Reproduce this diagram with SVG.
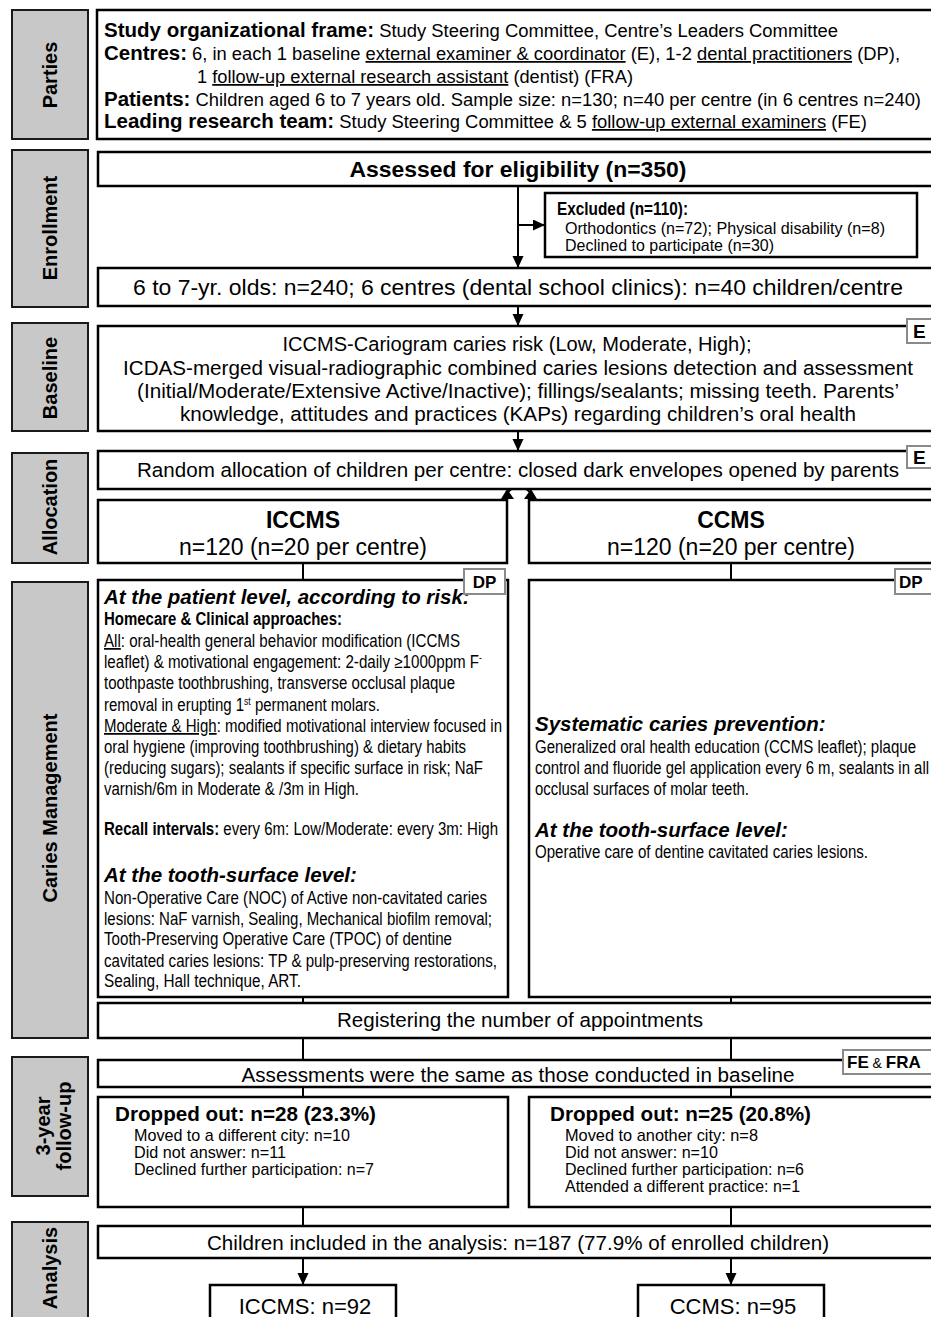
<svg xmlns="http://www.w3.org/2000/svg" width="931" height="1317" viewBox="0 0 931 1317">
<defs>
<style>
.lab{fill:#c8c8c8;stroke:#1a1a1a;stroke-width:2}
.box{fill:#fff;stroke:#000;stroke-width:2.5}
.badge{fill:#fff;stroke:#8a8a8a;stroke-width:2}
text{font-family:"Liberation Sans",Arial,sans-serif;fill:#000}
.vl{font-weight:bold;font-size:20px;text-anchor:middle}
.c{text-anchor:middle}
.b{font-weight:bold}
.bi{font-weight:bold;font-style:italic}
.u{text-decoration:underline}
.conn{stroke:#000;stroke-width:2;fill:none}
</style>
<marker id="ah" markerUnits="userSpaceOnUse" markerWidth="12" markerHeight="12" refX="12" refY="5.5" orient="auto">
<path d="M0,0 L12,5.5 L0,11 Z" fill="#000"/>
</marker>
</defs>
<rect width="931" height="1317" fill="#fff"/>

<g id="side-labels">
<rect class="lab" x="12" y="10" width="76" height="129"/>
<text class="vl" transform="translate(57,75) rotate(-90)">Parties</text>
<rect class="lab" x="12" y="150" width="76" height="157"/>
<text class="vl" transform="translate(57,228) rotate(-90)">Enrollment</text>
<rect class="lab" x="12" y="323" width="76" height="108"/>
<text class="vl" transform="translate(57,378) rotate(-90)">Baseline</text>
<rect class="lab" x="12" y="453" width="76" height="110"/>
<text class="vl" transform="translate(57,507) rotate(-90)">Allocation</text>
<rect class="lab" x="12" y="582" width="76" height="456"/>
<text class="vl" transform="translate(57,808) rotate(-90)">Caries Management</text>
<rect class="lab" x="12" y="1057" width="76" height="139"/>
<text class="vl" transform="translate(50,1126) rotate(-90)">3-year</text>
<text class="vl" transform="translate(71,1126) rotate(-90)">follow-up</text>
<rect class="lab" x="12" y="1222" width="76" height="100"/>
<text class="vl" transform="translate(57,1268) rotate(-90)">Analysis</text>
</g>

<g id="connectors">
<path class="conn" d="M518 186 V268" marker-end="url(#ah)"/>
<path class="conn" d="M518 225 H545" marker-end="url(#ah)"/>
<path class="conn" d="M518 306 V326" marker-end="url(#ah)"/>
<path class="conn" d="M518 431 V451" marker-end="url(#ah)"/>
<path class="conn" d="M508 492 Q518 481 530 492"/>
<path d="M501 499 L507 489 L514 499 Z" fill="#000"/>
<path d="M524 499 L531 489 L537 499 Z" fill="#000"/>
<path class="conn" d="M303 563 V580 M731 563 V580 M303 997 V1003 M731 997 V1003 M303 1038 V1060 M731 1038 V1060 M303 1087 V1097 M731 1087 V1097 M303 1207 V1226 M731 1207 V1226"/>
<path class="conn" d="M303 1258 V1285" marker-end="url(#ah)"/>
<path class="conn" d="M731 1258 V1285" marker-end="url(#ah)"/>
</g>

<g id="parties">
<rect class="box" x="97" y="10" width="845" height="129"/>
<text x="104" y="37" font-size="17.5" textLength="734" lengthAdjust="spacingAndGlyphs"><tspan class="b" font-size="19.5">Study organizational frame:</tspan> Study Steering Committee, Centre’s Leaders Committee</text>
<text x="104" y="60" font-size="17.5" textLength="796" lengthAdjust="spacingAndGlyphs"><tspan class="b" font-size="19.5">Centres:</tspan> 6, in each 1 baseline <tspan class="u">external examiner &amp; coordinator</tspan> (E), 1-2 <tspan class="u">dental practitioners</tspan> (DP),</text>
<text x="197" y="83" font-size="17.5" textLength="436" lengthAdjust="spacingAndGlyphs">1 <tspan class="u">follow-up external research assistant</tspan> (dentist) (FRA)</text>
<text x="104" y="106" font-size="17.5" textLength="817" lengthAdjust="spacingAndGlyphs"><tspan class="b" font-size="19.5">Patients:</tspan> Children aged 6 to 7 years old. Sample size: n=130; n=40 per centre (in 6 centres n=240)</text>
<text x="104" y="128" font-size="17.5" textLength="763" lengthAdjust="spacingAndGlyphs"><tspan class="b" font-size="19.5">Leading research team:</tspan> Study Steering Committee &amp; 5 <tspan class="u">follow-up external examiners</tspan> (FE)</text>
</g>

<g id="assessed">
<rect class="box" x="98" y="152" width="845" height="34"/>
<text class="b c" x="518" y="177" font-size="22" textLength="337" lengthAdjust="spacingAndGlyphs">Assessed for eligibility (n=350)</text>
</g>

<g id="excluded">
<rect class="box" x="545" y="193" width="372" height="64"/>
<text class="b" x="557" y="215" font-size="17.5" textLength="131" lengthAdjust="spacingAndGlyphs">Excluded (n=110):</text>
<text x="565" y="234" font-size="16.5" textLength="320" lengthAdjust="spacingAndGlyphs">Orthodontics (n=72); Physical disability (n=8)</text>
<text x="565" y="251" font-size="16.5" textLength="209" lengthAdjust="spacingAndGlyphs">Declined to participate (n=30)</text>
</g>

<g id="enrolled">
<rect class="box" x="98" y="268" width="845" height="38"/>
<text class="c" x="518" y="295" font-size="22" textLength="770" lengthAdjust="spacingAndGlyphs">6 to 7-yr. olds: n=240; 6 centres (dental school clinics): n=40 children/centre</text>
</g>

<g id="baseline">
<rect class="box" x="98" y="326" width="845" height="105"/>
<text class="c" x="517" y="351" font-size="20.5" textLength="469" lengthAdjust="spacingAndGlyphs">ICCMS-Cariogram caries risk (Low, Moderate, High);</text>
<text class="c" x="518" y="375" font-size="20.5" textLength="790" lengthAdjust="spacingAndGlyphs">ICDAS-merged visual-radiographic combined caries lesions detection and assessment</text>
<text class="c" x="518" y="398" font-size="20.5" textLength="762" lengthAdjust="spacingAndGlyphs">(Initial/Moderate/Extensive Active/Inactive); fillings/sealants; missing teeth. Parents’</text>
<text class="c" x="518" y="421" font-size="20.5" textLength="676" lengthAdjust="spacingAndGlyphs">knowledge, attitudes and practices (KAPs) regarding children’s oral health</text>
<rect class="badge" x="907" y="319" width="30" height="24"/>
<text class="b" x="913" y="338" font-size="19">E</text>
</g>

<g id="allocation">
<rect class="box" x="98" y="451" width="845" height="38"/>
<text class="c" x="518" y="477" font-size="20.5" textLength="762" lengthAdjust="spacingAndGlyphs">Random allocation of children per centre: closed dark envelopes opened by parents</text>
<rect class="badge" x="907" y="446" width="30" height="22"/>
<text class="b" x="913" y="464" font-size="19">E</text>
</g>

<g id="iccms">
<rect class="box" x="98" y="500" width="409" height="63"/>
<text class="b c" x="303" y="528" font-size="23">ICCMS</text>
<text class="c" x="303" y="555" font-size="23">n=120 (n=20 per centre)</text>
</g>

<g id="ccms">
<rect class="box" x="529" y="500" width="410" height="63"/>
<text class="b c" x="731" y="528" font-size="23">CCMS</text>
<text class="c" x="731" y="555" font-size="23">n=120 (n=20 per centre)</text>
</g>

<g id="iccms-management">
<rect class="box" x="98" y="580" width="410" height="417"/>
<text class="bi" x="104" y="604" font-size="20.5">At the patient level, according to risk:</text>
<text class="b" x="104" y="625" font-size="17.5" textLength="238" lengthAdjust="spacingAndGlyphs">Homecare &amp; Clinical approaches:</text>
<text x="104" y="647" font-size="17.5" textLength="356" lengthAdjust="spacingAndGlyphs"><tspan class="u">All</tspan>: oral-health general behavior modification (ICCMS</text>
<text x="104" y="668" font-size="17.5" textLength="378" lengthAdjust="spacingAndGlyphs">leaflet) &amp; motivational engagement: 2-daily ≥1000ppm F<tspan dy="-7" font-size="10">-</tspan></text>
<text x="104" y="689" font-size="17.5" textLength="351" lengthAdjust="spacingAndGlyphs">toothpaste toothbrushing, transverse occlusal plaque</text>
<text x="104" y="711" font-size="17.5" textLength="276" lengthAdjust="spacingAndGlyphs">removal in erupting 1<tspan dy="-6" font-size="10">st</tspan><tspan dy="6"> permanent molars.</tspan></text>
<text x="104" y="732" font-size="17.5" textLength="398" lengthAdjust="spacingAndGlyphs"><tspan class="u">Moderate &amp; High</tspan>: modified motivational interview focused in</text>
<text x="104" y="753" font-size="17.5" textLength="362" lengthAdjust="spacingAndGlyphs">oral hygiene (improving toothbrushing) &amp; dietary habits</text>
<text x="104" y="774" font-size="17.5" textLength="379" lengthAdjust="spacingAndGlyphs">(reducing sugars); sealants if specific surface in risk; NaF</text>
<text x="104" y="795" font-size="17.5" textLength="255" lengthAdjust="spacingAndGlyphs">varnish/6m in Moderate &amp; /3m in High.</text>
<text x="104" y="835" font-size="17.5" textLength="394" lengthAdjust="spacingAndGlyphs"><tspan class="b">Recall intervals:</tspan> every 6m: Low/Moderate: every 3m: High</text>
<text class="bi" x="104" y="882" font-size="20.5">At the tooth-surface level:</text>
<text x="104" y="904" font-size="17.5" textLength="383" lengthAdjust="spacingAndGlyphs">Non-Operative Care (NOC) of Active non-cavitated caries</text>
<text x="104" y="925" font-size="17.5" textLength="388" lengthAdjust="spacingAndGlyphs">lesions: NaF varnish, Sealing, Mechanical biofilm removal;</text>
<text x="104" y="945" font-size="17.5" textLength="348" lengthAdjust="spacingAndGlyphs">Tooth-Preserving Operative Care (TPOC) of dentine</text>
<text x="104" y="967" font-size="17.5" textLength="393" lengthAdjust="spacingAndGlyphs">cavitated caries lesions: TP &amp; pulp-preserving restorations,</text>
<text x="104" y="987" font-size="17.5" textLength="197" lengthAdjust="spacingAndGlyphs">Sealing, Hall technique, ART.</text>
<rect class="badge" x="464" y="569" width="41" height="25"/>
<text class="b c" x="484.5" y="588" font-size="17">DP</text>
</g>

<g id="ccms-management">
<rect class="box" x="529" y="580" width="410" height="417"/>
<text class="bi" x="535" y="731" font-size="20.5">Systematic caries prevention:</text>
<text x="535" y="753" font-size="17.5" textLength="381" lengthAdjust="spacingAndGlyphs">Generalized oral health education (CCMS leaflet); plaque</text>
<text x="535" y="774" font-size="17.5" textLength="394" lengthAdjust="spacingAndGlyphs">control and fluoride gel application every 6 m, sealants in all</text>
<text x="535" y="795" font-size="17.5" textLength="214" lengthAdjust="spacingAndGlyphs">occlusal surfaces of molar teeth.</text>
<text class="bi" x="535" y="837" font-size="20.5">At the tooth-surface level:</text>
<text x="535" y="858" font-size="17.5" textLength="333" lengthAdjust="spacingAndGlyphs">Operative care of dentine cavitated caries lesions.</text>
<rect class="badge" x="895" y="569" width="42" height="25"/>
<text class="b" x="899" y="588" font-size="17">DP</text>
</g>

<g id="registering">
<rect class="box" x="98" y="1003" width="845" height="35"/>
<text class="c" x="520" y="1027" font-size="20.5" textLength="366" lengthAdjust="spacingAndGlyphs">Registering the number of appointments</text>
</g>

<g id="assessments">
<rect class="box" x="98" y="1060" width="845" height="27"/>
<text class="c" x="518" y="1082" font-size="20.5" textLength="553" lengthAdjust="spacingAndGlyphs">Assessments were the same as those conducted in baseline</text>
<rect class="badge" x="843" y="1050" width="94" height="24"/>
<text x="847" y="1068" font-size="17"><tspan class="b">FE</tspan><tspan font-size="14"> &amp; </tspan><tspan class="b">FRA</tspan></text>
</g>

<g id="dropped-iccms">
<rect class="box" x="98" y="1097" width="410" height="110"/>
<text class="b" x="115" y="1121" font-size="21" textLength="261" lengthAdjust="spacingAndGlyphs">Dropped out: n=28 (23.3%)</text>
<text x="134" y="1141" font-size="17" textLength="216" lengthAdjust="spacingAndGlyphs">Moved to a different city: n=10</text>
<text x="134" y="1158" font-size="17" textLength="152" lengthAdjust="spacingAndGlyphs">Did not answer: n=11</text>
<text x="134" y="1175" font-size="17" textLength="240" lengthAdjust="spacingAndGlyphs">Declined further participation: n=7</text>
</g>

<g id="dropped-ccms">
<rect class="box" x="529" y="1097" width="410" height="110"/>
<text class="b" x="550" y="1121" font-size="21" textLength="261" lengthAdjust="spacingAndGlyphs">Dropped out: n=25 (20.8%)</text>
<text x="565" y="1141" font-size="17" textLength="193" lengthAdjust="spacingAndGlyphs">Moved to another city: n=8</text>
<text x="565" y="1158" font-size="17" textLength="153" lengthAdjust="spacingAndGlyphs">Did not answer: n=10</text>
<text x="565" y="1175" font-size="17" textLength="239" lengthAdjust="spacingAndGlyphs">Declined further participation: n=6</text>
<text x="565" y="1192" font-size="17" textLength="235" lengthAdjust="spacingAndGlyphs">Attended a different practice: n=1</text>
</g>

<g id="analysis">
<rect class="box" x="98" y="1226" width="845" height="32"/>
<text class="c" x="518" y="1250" font-size="20.5" textLength="622" lengthAdjust="spacingAndGlyphs">Children included in the analysis: n=187 (77.9% of enrolled children)</text>
</g>

<g id="iccms-n92">
<rect class="box" x="210" y="1285" width="186" height="40"/>
<text class="c" x="305" y="1314" font-size="22">ICCMS: n=92</text>
</g>

<g id="ccms-n95">
<rect class="box" x="638" y="1285" width="186" height="40"/>
<text class="c" x="733" y="1314" font-size="22">CCMS: n=95</text>
</g>
</svg>
